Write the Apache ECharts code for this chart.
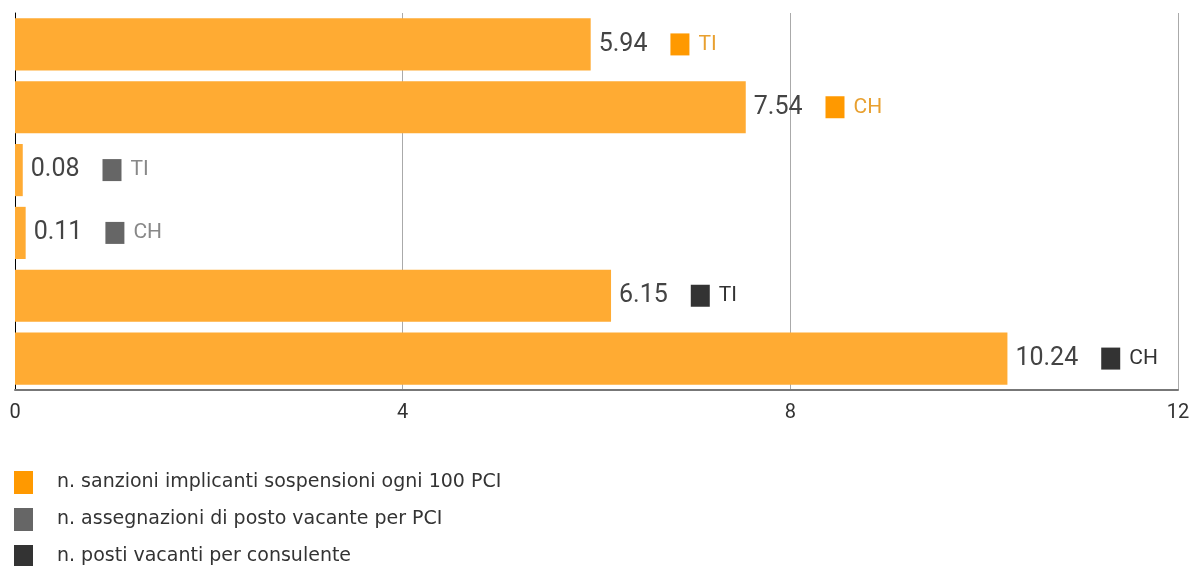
<!DOCTYPE html>
<html><head><meta charset="utf-8">
<script src="https://cdn.jsdelivr.net/npm/echarts@6/dist/echarts.min.js"></script>
<style>html,body{margin:0;padding:0;background:#fff}#c{width:1194px;height:566px}</style>
</head><body><div id="c"></div>
<script>
const categories = ['TI', 'CH', 'TI', 'CH', 'TI', 'CH'];
const seriesNames = [
  'n. sanzioni implicanti sospensioni ogni 100 PCI',
  'n. assegnazioni di posto vacante per PCI',
  'n. posti vacanti per consulente'
];
const sanzioni = [5.94, 7.54, null, null, null, null];
const assegnazioni = [null, null, 0.08, 0.11, null, null];
const posti = [null, null, null, null, 6.15, 10.24];
const xTicks = [0, 4, 8, 12];

const legendColors = ['#FF9900', '#666666', '#333333'];
const textColors = ['#E8A030', '#888888', '#333333'];
const barColor = '#FFAB33';

function mkSeries(i, data) {
  return {
    name: seriesNames[i],
    type: 'bar',
    stack: 'all',
    data: data,
    barCategoryGap: '17%',
    itemStyle: { color: barColor },
    label: {
      show: true,
      position: 'right',
      distance: 8,
      formatter: p => '{v|' + p.value.toFixed(2) + '}{box|}{t|' + categories[p.dataIndex] + '}',
      rich: {
        v: { fontFamily: 'Roboto', fontSize: 25, color: '#444', padding: [0, 23, 0, 0] },
        box: { width: 19, height: 22, backgroundColor: legendColors[i] },
        t: { fontFamily: 'Roboto', fontSize: 21, color: textColors[i], padding: [0, 0, 0, 9] }
      }
    }
  };
}

const chart = echarts.init(document.getElementById('c'));
chart.setOption({
  animation: false,
  grid: { left: 15, right: 16, top: 13, bottom: 176 },
  xAxis: {
    type: 'value', min: 0, max: 12, interval: 4,
    axisLine: { show: true, lineStyle: { color: '#777', width: 2 } },
    axisTick: { show: false },
    axisLabel: { fontFamily: 'Roboto', fontSize: 20, color: '#333', margin: 13 },
    splitLine: { show: true, lineStyle: { color: '#aaa', width: 1 } }
  },
  yAxis: {
    type: 'category', data: categories, inverse: true,
    axisLine: { show: true, lineStyle: { color: '#000', width: 1 } },
    axisTick: { show: false },
    axisLabel: { show: false }
  },
  legend: {
    orient: 'vertical', left: 14, top: 471, height: 150, padding: 0,
    itemWidth: 19, itemHeight: 23, itemGap: 14,
    icon: 'rect',
    textStyle: { fontFamily: 'DejaVu Sans', fontSize: 19, color: '#333', padding: [0, 0, 0, 19] },
    data: seriesNames.map((n, i) => ({ name: n, itemStyle: { color: legendColors[i] } }))
  },
  series: [mkSeries(0, sanzioni), mkSeries(1, assegnazioni), mkSeries(2, posti)]
});
</script>
</body></html>
